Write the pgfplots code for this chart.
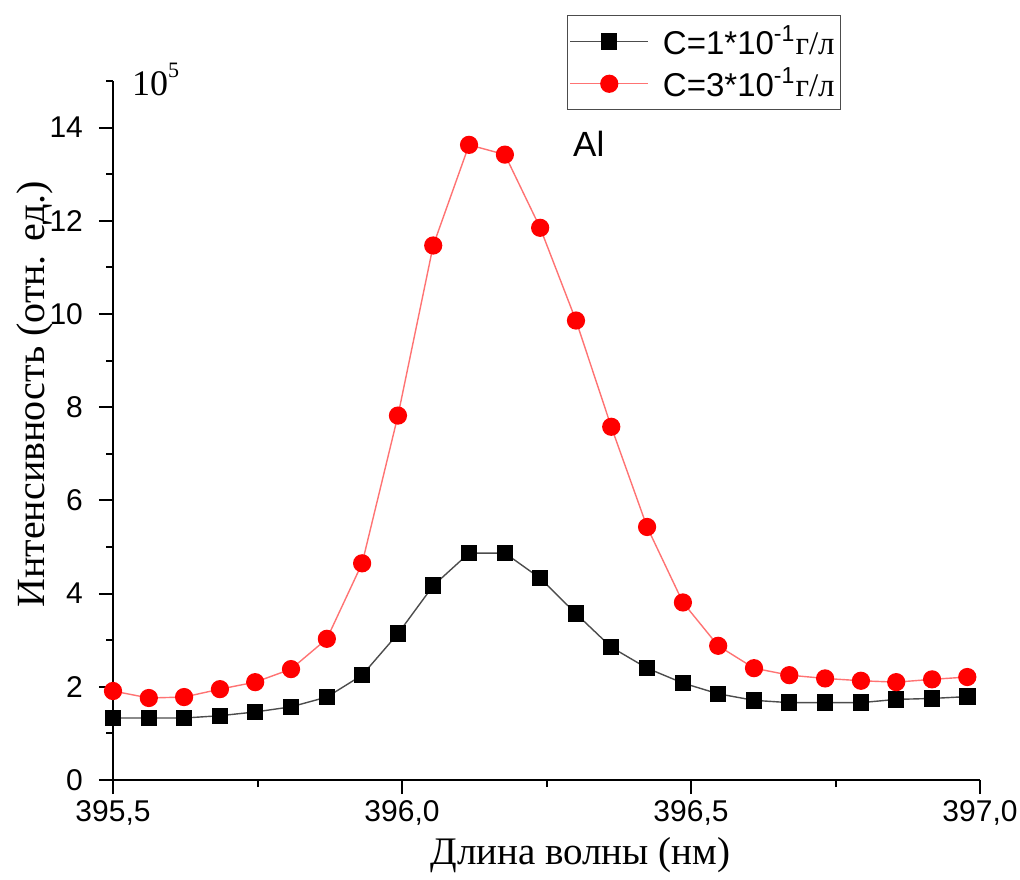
\documentclass[border=0pt]{standalone}
\usepackage{fontspec}
\setmainfont{Liberation Sans}
\newfontfamily\serif{Liberation Serif}
\usepackage{pgfplots}
\pgfplotsset{compat=1.18}
\begin{document}
\begin{tikzpicture}
\begin{axis}[
  scale only axis, width=433.5pt, height=349.5pt,
  xmin=395.5, xmax=397.0, ymin=0, ymax=15,
  clip mode=individual,
  axis x line*=bottom, axis y line*=left,
  axis line style={line width=1.1pt, -},
  tick align=outside,
  xtick={395.5,396,396.5,397}, minor x tick num=1,
  ytick={0,2,...,14}, minor y tick num=1,
  extra y ticks={15}, extra y tick labels={}, extra y tick style={major tick length=3.5pt},
  major tick length=7pt, minor tick length=3.5pt,
  every major tick/.append style={line width=1pt, black},
  every minor tick/.append style={line width=1pt, black},
  /pgf/number format/assume math mode=true,
  tick label style={font=\fontsize{15}{17}\selectfont},
  x tick label style={yshift=-2pt, inner ysep=1pt, /pgf/number format/.cd, use comma, fixed, fixed zerofill, precision=1},
  y tick label style={xshift=-4.5pt, /pgf/number format/.cd, fixed, precision=0},
  xlabel={\serif Длина волны (нм)},
  xlabel style={font=\fontsize{19.5}{22}\selectfont, inner ysep=1pt, at={(rel axis cs:0.539,-0.108)}, anchor=center},
  ylabel={\serif Интенсивность (отн. ед.)},
  ylabel style={font=\fontsize{20}{23}\selectfont, at={(rel axis cs:-0.09,0.552)}, anchor=center},
  legend style={at={(rel axis cs:0.5236,1.0944)}, anchor=north west, draw=black!70, line width=0.6pt,
    font=\fontsize{16.5}{20}\selectfont, legend cell align=left, inner xsep=1pt, inner ysep=3pt, row sep=1.5pt,
    /tikz/every odd column/.append style={column sep=5pt}},
  legend image code/.code={\draw[mark repeat=2,mark phase=2] plot coordinates {(0pt,0pt) (19.5pt,0pt) (39pt,0pt)};},
]
\addplot[color=black!70, line width=0.7pt, mark=square*, mark size=3.75pt, mark options={fill=black, draw=black}] coordinates {
(395.500,1.33) (395.562,1.33) (395.623,1.33) (395.685,1.38) (395.746,1.46)
(395.808,1.57) (395.870,1.78) (395.931,2.25) (395.993,3.14) (396.054,4.17)
(396.116,4.87) (396.178,4.87) (396.239,4.33) (396.301,3.57) (396.362,2.85)
(396.424,2.40) (396.486,2.08) (396.547,1.85) (396.609,1.71) (396.670,1.66)
(396.732,1.66) (396.794,1.66) (396.855,1.73) (396.917,1.75) (396.978,1.79)
};
\addlegendentry{C=1*10\textsuperscript{-1}{\serif г/л}}
\addplot[color=red!55, line width=0.7pt, mark=*, mark size=4.2pt, mark options={fill=red, draw=red}] coordinates {
(395.500,1.91) (395.562,1.76) (395.623,1.78) (395.685,1.95) (395.746,2.10)
(395.808,2.38) (395.870,3.03) (395.931,4.65) (395.993,7.82) (396.054,11.47)
(396.116,13.63) (396.178,13.42) (396.239,11.85) (396.301,9.86) (396.362,7.58)
(396.424,5.43) (396.486,3.81) (396.547,2.88) (396.609,2.40) (396.670,2.25)
(396.732,2.18) (396.794,2.13) (396.855,2.10) (396.917,2.16) (396.978,2.21)
};
\addlegendentry{C=3*10\textsuperscript{-1}{\serif г/л}}
\node[anchor=base west, font=\fontsize{17.5}{20}\selectfont] at (axis cs:396.284,13.38) {Al};
\node[anchor=base west, xshift=6pt, yshift=-7pt, font=\serif\fontsize{18}{20}\selectfont] at (rel axis cs:0,1) {10\raisebox{0.5em}{\fontsize{11}{12}\selectfont 5}};
\end{axis}
\pgfresetboundingbox
\path[use as bounding box] ([shift={(-56.5pt,-49.5pt)}]current axis.south west) rectangle ([shift={(20pt,40.5pt)}]current axis.north east);
\end{tikzpicture}
\end{document}
